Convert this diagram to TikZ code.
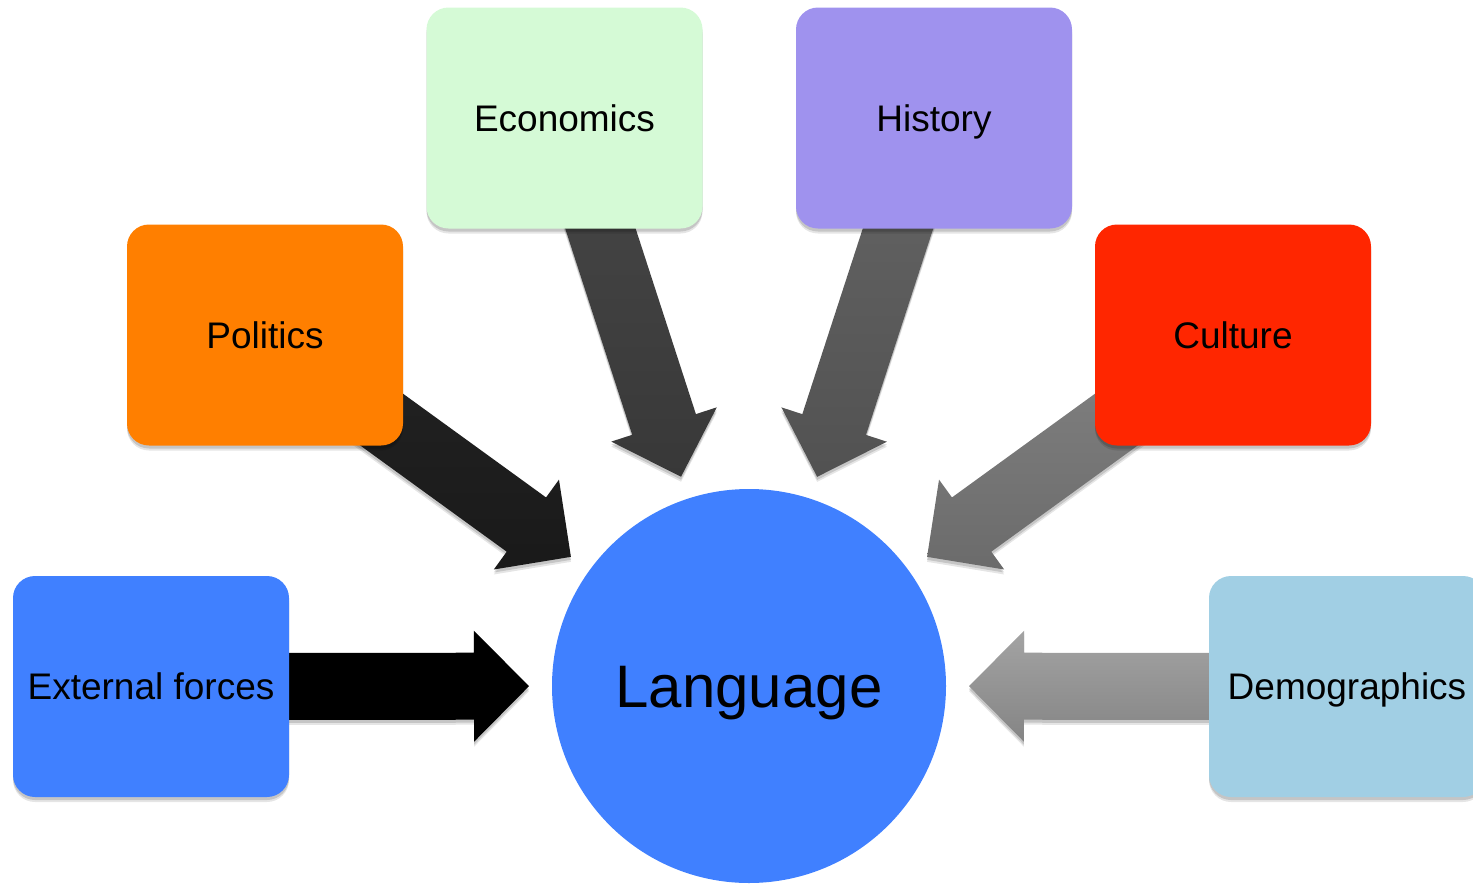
\documentclass[tikz,border=0pt]{standalone}
\usepackage{fontspec}
\setmainfont{Liberation Sans}
\usetikzlibrary{calc,shadows,backgrounds}
\definecolor{cblue}{RGB}{64,128,255}
\definecolor{corange}{RGB}{255,127,0}
\definecolor{cgreen}{RGB}{213,250,214}
\definecolor{cpurple}{RGB}{159,146,238}
\definecolor{cred}{RGB}{255,38,0}
\definecolor{clight}{RGB}{161,207,228}
\tikzset{
  softshadow/.style={
    drop shadow={shadow xshift=0pt, shadow yshift=-5pt, shadow scale=1.0, opacity=0.10, fill=black},
    drop shadow={shadow xshift=0pt, shadow yshift=-3pt, shadow scale=1.0, opacity=0.14, fill=black}},
  factor/.style={rectangle, rounded corners=22pt, minimum width=276pt, minimum height=221pt,
    inner sep=0pt, text height=26.5pt, text depth=0pt, font=\fontsize{37}{40}\selectfont, softshadow},
  langnode/.style={circle, fill=cblue, minimum size=394pt, inner sep=0pt,
    text height=43pt, text depth=0pt, font=\fontsize{60}{64}\selectfont},
  fatarr/.style={softshadow}
}
\newcommand{\fatarrow}[2]{%
  \coordinate (T) at ($(lang.center)!220pt!(#1.center)$);
  \coordinate (B) at ($(T)!55pt!(#1.center)$);
  \path[fatarr, #2] ($(#1.center)!33.5pt!90:(T)$) -- ($(B)!33.5pt!90:(T)$) -- ($(B)!55.5pt!90:(T)$) -- (T)
    -- ($(B)!55.5pt!-90:(T)$) -- ($(B)!33.5pt!-90:(T)$) -- ($(#1.center)!33.5pt!-90:(T)$) -- cycle;
}
\begin{document}
\begin{tikzpicture}[x=1pt,y=-1pt]
\useasboundingbox (0,0) rectangle (1473,884);
\clip (0,0) rectangle (1473,884);
\node[factor, fill=cblue] (ext) at (151,686.5) {External forces};
\node[factor, fill=corange] (pol) at (265,335) {Politics};
\node[factor, fill=cgreen] (eco) at (564.5,118) {Economics};
\node[factor, fill=cpurple] (his) at (934,118) {History};
\node[factor, fill=cred] (cul) at (1233,335) {Culture};
\node[factor, fill=clight] (dem) at (1347,686.5) {Demographics};
\node[langnode] (lang) at (749,686) {Language};
\begin{scope}[on background layer]
\fatarrow{ext}{fill=black}
\fatarrow{pol}{top color=black!86, bottom color=black!90}
\fatarrow{eco}{top color=black!72, bottom color=black!78}
\fatarrow{his}{top color=black!60, bottom color=black!68}
\fatarrow{cul}{top color=black!48, bottom color=black!58}
\fatarrow{dem}{top color=black!36, bottom color=black!48}
\end{scope}
\end{tikzpicture}
\end{document}
